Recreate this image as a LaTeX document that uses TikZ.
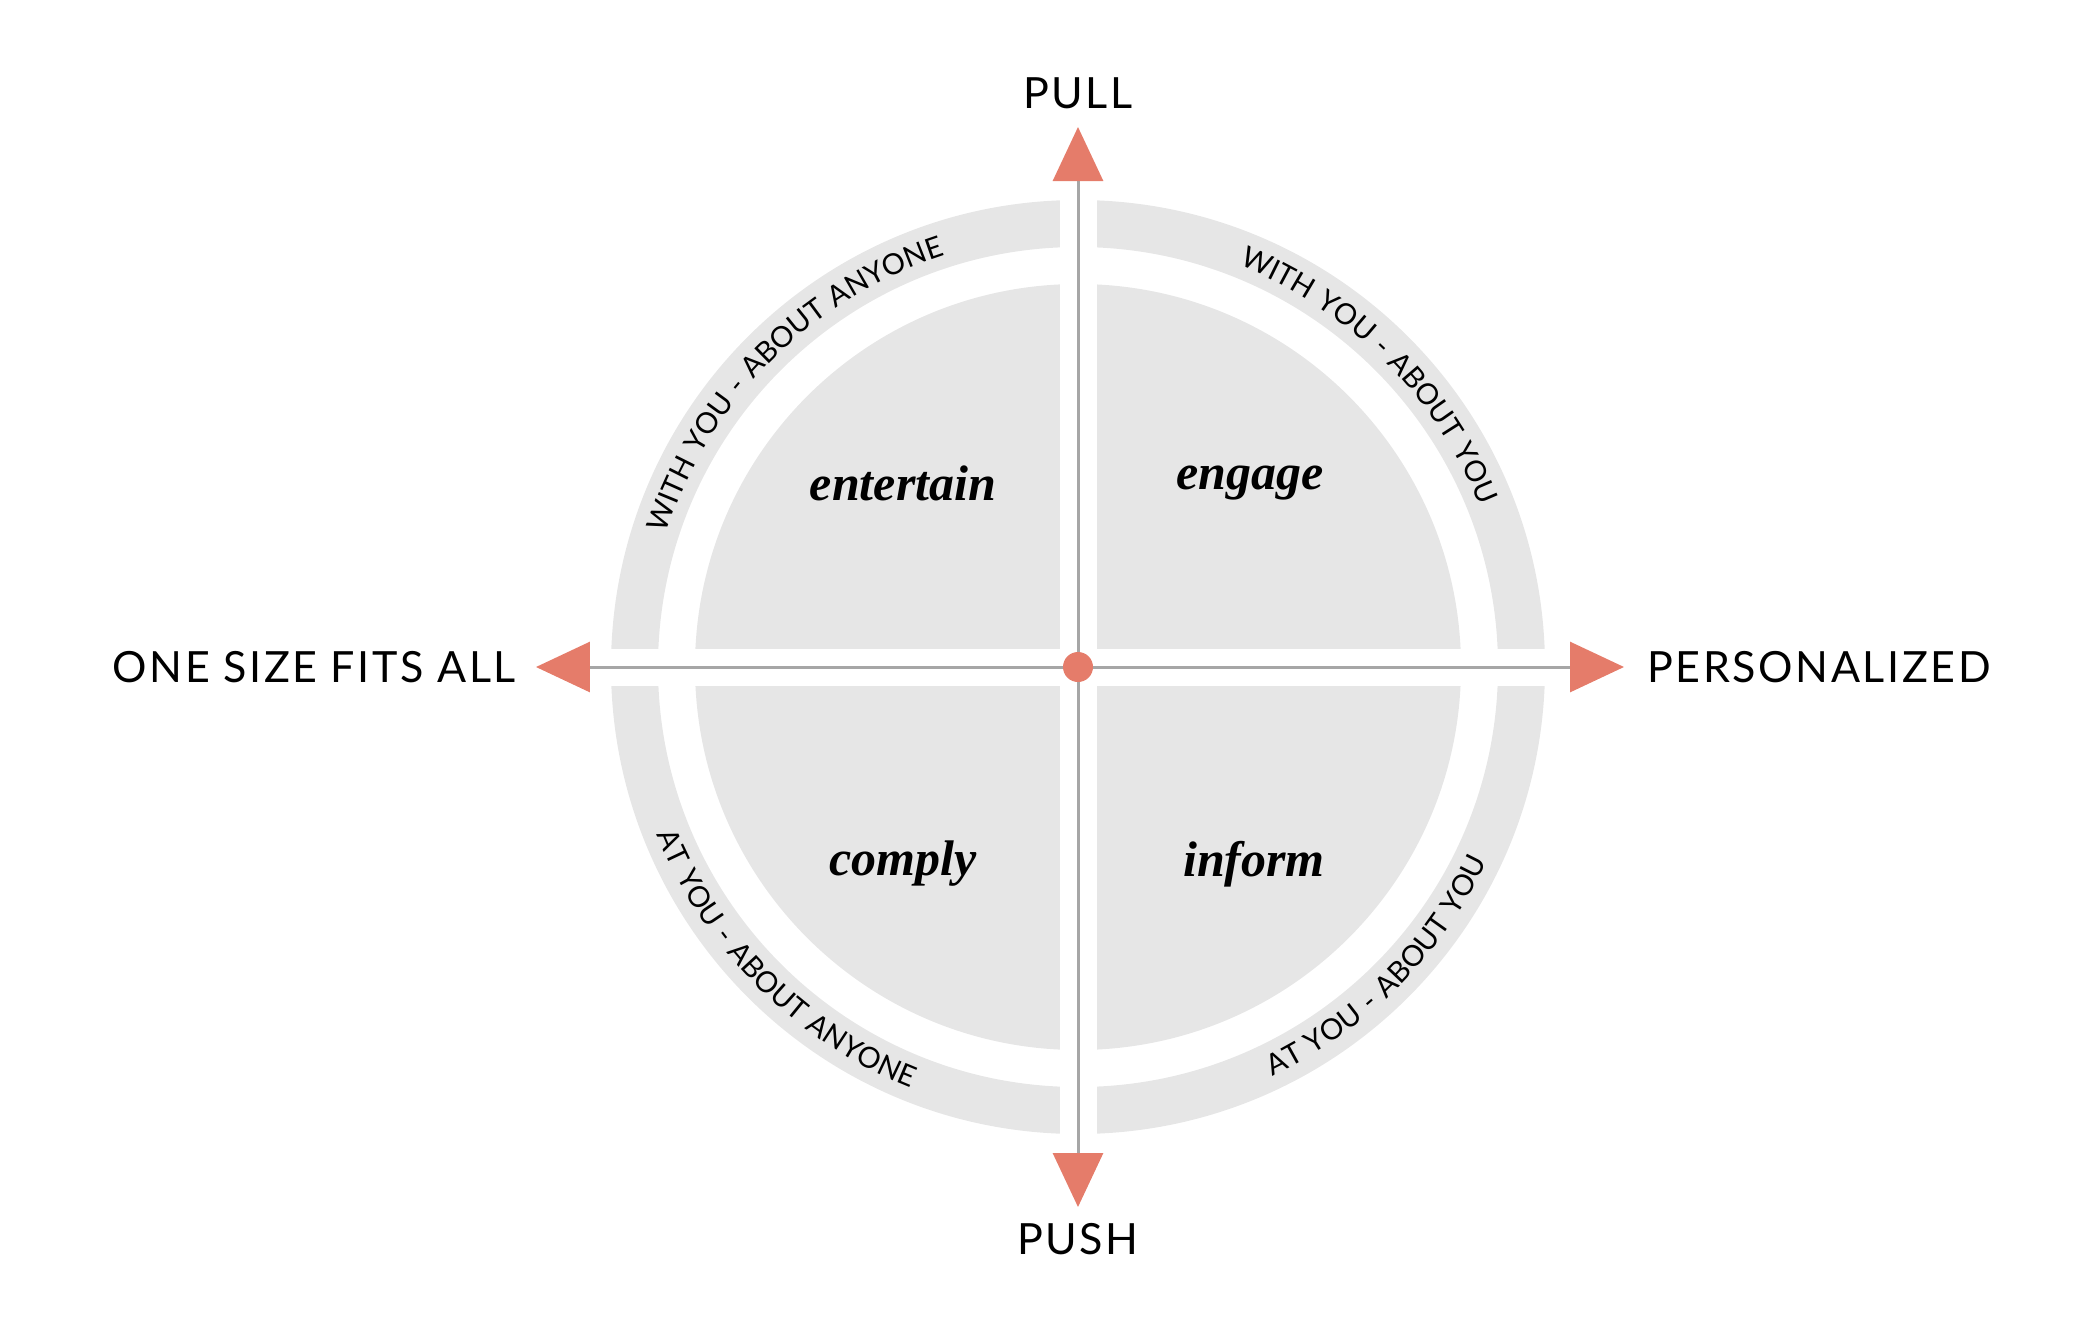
\documentclass[tikz,border=0pt]{standalone}
\usepackage{fontspec}
\newfontfamily\lbl{Lato}[LetterSpace=6.0]
\newfontfamily\wrd{Liberation Serif}
\usetikzlibrary{arrows.meta,decorations.text}
\definecolor{ring}{HTML}{E6E6E6}
\definecolor{axis}{HTML}{A6A6A6}
\definecolor{arr}{HTML}{E57C6A}
\begin{document}
\begin{tikzpicture}[x=0.5pt,y=0.5pt,
  ax/.style={draw=axis,line width=1.5pt,-{Triangle[length=27pt,width=25pt,color=arr]}},
  big/.style={font=\lbl\fontsize{21.5}{26}\selectfont},
  word/.style={font=\wrd\bfseries\itshape\fontsize{25}{29}\selectfont},
  rt/.style={decorate,decoration={text along path,text align=center,
     text={|\lbl\fontsize{14.5}{17}\selectfont|#1}}}]
\useasboundingbox (-1078,-663) rectangle (1002,667);
\coordinate (c) at (0,0);
\fill[ring,even odd rule] (c) circle (233.5pt) circle (210pt);
\fill[ring] (c) circle (191.5pt);
\fill[white] (-240pt,-9.25pt) rectangle (240pt,9.25pt);
\fill[white] (-9.25pt,-240pt) rectangle (9.25pt,240pt);
\coordinate (t) at (0,270pt);
\coordinate (b) at (0,-270pt);
\coordinate (l) at (-271pt,0);
\coordinate (r) at (273pt,0);
\draw[ax] (c) -- (t);
\draw[ax] (c) -- (b);
\draw[ax] (c) -- (l);
\draw[ax] (c) -- (r);
\fill[arr] (c) circle (7.5pt);
\node[big] (pull) at (0,287pt) {PULL};
\node[big] (push) at (0,-286pt) {PUSH};
\node[big,anchor=east,inner sep=0] (one) at (-281pt,0) {ONE SIZE FITS ALL};
\node[big,anchor=west,inner sep=0] (pers) at (284.5pt,0) {PERSONALIZED};
\node[word] (ent) at (-175,184) {entertain};
\node[word] (eng) at (172,184) {engage};
\node[word] (com) at (-175,-197) {comply};
\node[word] (inf) at (176,-197) {inform};
\path[rt={WITH YOU - ABOUT ANYONE}] (185:216.5pt) arc[start angle=185,end angle=85,radius=216.5pt];
\path[rt={WITH YOU - ABOUT YOU}] (95:216.5pt) arc[start angle=95,end angle=-5,radius=216.5pt];
\path[rt={AT YOU - ABOUT ANYONE}] (175:226.5pt) arc[start angle=175,end angle=275,radius=226.5pt];
\path[rt={AT YOU - ABOUT YOU}] (265:226.5pt) arc[start angle=265,end angle=365,radius=226.5pt];
\end{tikzpicture}
\end{document}
